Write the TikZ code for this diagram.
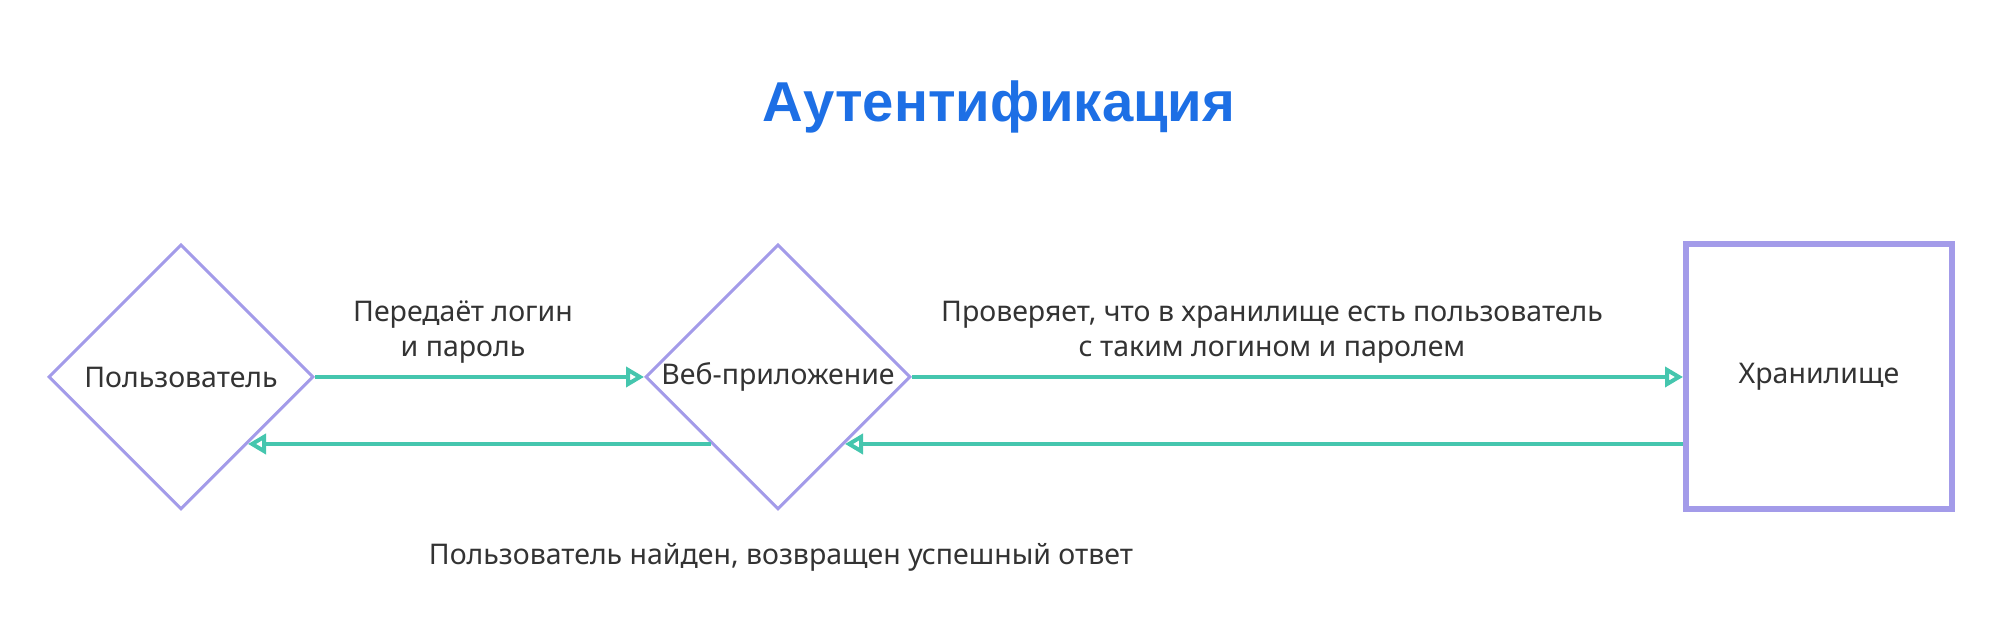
\documentclass[tikz,border=0pt]{standalone}
\usepackage{fontspec}
\setmainfont{Noto Sans}
\newfontfamily\titlefont{Liberation Sans}
\usetikzlibrary{shapes.geometric,arrows.meta}

\definecolor{lavender}{HTML}{A39BE9}
\definecolor{teal}{HTML}{45C6AE}
\definecolor{titleblue}{HTML}{1D6FE5}
\definecolor{textgray}{HTML}{333333}

\tikzstyle{actor} = [draw=lavender, line width=0.03cm, diamond, inner sep=0pt,
  minimum width=2.65cm, minimum height=2.65cm, text=textgray, font=\fontsize{8.1}{10}\selectfont]
\tikzstyle{storage} = [draw=lavender, line width=0.06cm, rectangle, inner sep=0pt,
  minimum width=2.66cm, minimum height=2.65cm, text=textgray, font=\fontsize{8.1}{10}\selectfont]
\tikzstyle{caption} = [text=textgray, align=center, font=\fontsize{8.1}{10}\selectfont]
\tikzstyle{flow} = [draw=teal, line width=0.04cm,
  -{Triangle[open, length=0.18cm, width=0.2cm]}]

\begin{document}
\begin{tikzpicture}
        \useasboundingbox (0,0) rectangle (20,6.19);
        \node [anchor=base, text=titleblue, font=\fontsize{16}{19}\titlefont\bfseries\selectfont]
          (title) at (9.99, 4.97) {Аутентификация};

        \node [actor]   (user)  at ( 1.81, 2.42) {Пользователь};
        \node [actor]   (web)   at ( 7.78, 2.42) {Веб-приложение};
        \node [storage] (store) at (18.19, 2.42) {Хранилище};

        \node [caption] (send)  at ( 4.63, 2.87) {Передаёт логин\\и пароль};
        \node [caption] (check) at (12.72, 2.87) {Проверяет, что в хранилище есть пользователь\\с таким логином и паролем};
        \node [caption, anchor=base] (found) at (7.81, 0.54)
          {Пользователь найден, возвращен успешный ответ};

        \draw[flow] (user.east) -- (web.west);
        \draw[flow] (web.east) -- (store.west);
        \draw[flow] (web.south east -| store.west) -- (web.south east);
        \draw[flow] (web.south west) -- (user.south east);
      \end{tikzpicture}
\end{document}
